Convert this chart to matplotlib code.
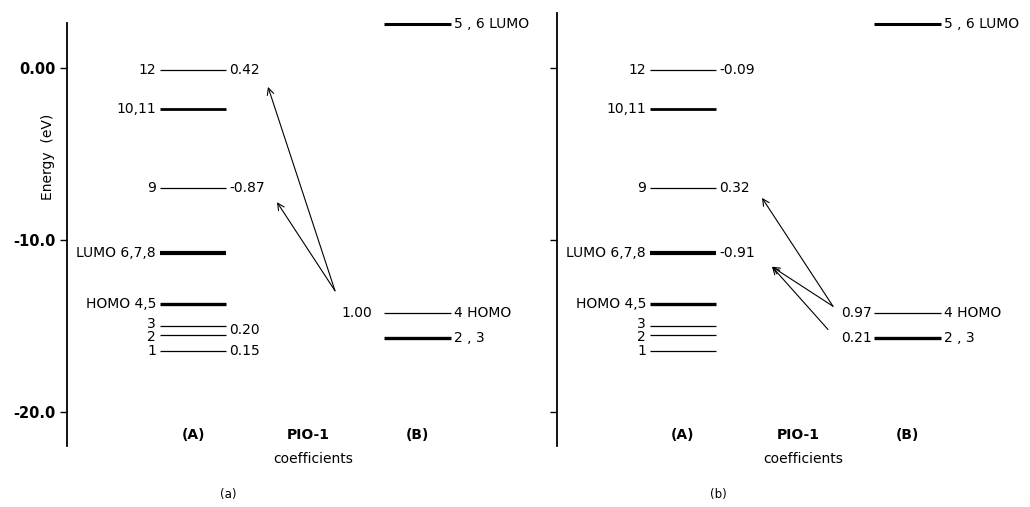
import matplotlib
matplotlib.use("Agg")
from matplotlib import pyplot as plt

plt.rcParams['font.family'] = ['DejaVu Sans']

# orbital energies of fragment (A), eV
e_A = [-0.1, -2.4, -7.0, -10.75, -13.7, -15.0, -15.5, -16.45]
lab_A = ["12", "10,11", "9", "LUMO 6,7,8", "HOMO 4,5", "3", "2", "1"]
lw_A = [0.9, 2.0, 0.9, 3.0, 2.4, 0.9, 0.9, 0.9]

# orbital energies of fragment (B), eV
e_B = [2.55, -14.25, -15.7]
lab_B = ["5 , 6 LUMO", "4 HOMO", "2 , 3"]
lw_B = [2.2, 0.9, 2.4]

# PIO-1 coefficients (level index, value)
coef_A_a = [(0, "0.42"), (2, "-0.87"), (5, "0.20"), (7, "0.15")]
coef_B_a = [(1, "1.00")]
coef_A_b = [(0, "-0.09"), (2, "0.32"), (3, "-0.91")]
coef_B_b = [(1, "0.97"), (2, "0.21")]

# arrows: (x0, E0, x1, E1)
arrows_a = [(268, -12.95, 201, -1.1), (268, -12.95, 210, -7.8)]
arrows_b = [(276, -13.85, 205, -7.55), (276, -13.85, 215, -11.55),
            (271, -15.2, 215, -11.55)]

yticks = [0.0, -10.0, -20.0]
ytick_labels = ["0.00", "-10.0", "-20.0"]

xA = (93, 159)
xB = (317, 384)
FS = 10

fig = plt.figure(figsize=(10.3, 5.07), dpi=100)
W, H = 1030, 507


def px_axes(x0, y0, x1, y1):
    return fig.add_axes([x0 / W, 1 - y1 / H, (x1 - x0) / W, (y1 - y0) / H])


def panel(ax, coef_A, coef_B, arrows, letter, show_ticks, spine_top, b_gap):
    ax.set_xlim(0, 470)
    ax.set_ylim(-22.03, 3.37)
    for s in ["top", "right", "bottom"]:
        ax.spines[s].set_visible(False)
    ax.spines["left"].set_bounds(-21.95, spine_top)
    ax.spines["left"].set_linewidth(1.3)
    ax.set_xticks([])
    ax.set_yticks(yticks)
    ax.tick_params(axis="y", direction="out", length=5, width=1.0, pad=3,
                   labelsize=10.5)
    if show_ticks:
        ax.set_yticklabels(ytick_labels, fontweight="bold")
    else:
        ax.set_yticklabels([])

    for e, lab, lw in zip(e_A, lab_A, lw_A):
        ax.plot(xA, [e, e], color="black", lw=lw, solid_capstyle="butt")
        dy = 0.0
        if lab in ("3", "2"):
            dy = 0.12 if lab == "3" else -0.12
        ax.text(xA[0] - 4, e + dy, lab, ha="right", va="center", fontsize=FS)
    for e, lab, lw in zip(e_B, lab_B, lw_B):
        ax.plot(xB, [e, e], color="black", lw=lw, solid_capstyle="butt")
        ax.text(xB[1] + 3, e, lab, ha="left", va="center", fontsize=FS)

    for i, c in coef_A:
        e = e_A[i]
        if i == 5:
            e = (e_A[5] + e_A[6]) / 2
        ax.text(xA[1] + 3, e, c, ha="left", va="center", fontsize=FS)
    for i, c in coef_B:
        ax.text(xB[0] - b_gap, e_B[i], c, ha="right", va="center", fontsize=FS)

    for x0, y0, x1, y1 in arrows:
        ax.annotate("", xy=(x1, y1), xytext=(x0, y0),
                    arrowprops=dict(arrowstyle="->", color="black", lw=0.8,
                                    shrinkA=0, shrinkB=0,
                                    mutation_scale=12))

    ax.text(126, -21.35, "(A)", ha="center", va="center", fontsize=10,
            fontweight="bold", clip_on=False)
    ax.text(241, -21.35, "PIO-1", ha="center", va="center", fontsize=10,
            fontweight="bold", clip_on=False)
    ax.text(350, -21.35, "(B)", ha="center", va="center", fontsize=10,
            fontweight="bold", clip_on=False)
    ax.text(246, -22.75, "coefficients", ha="center", va="center",
            fontsize=10, clip_on=False)
    ax.text(161, -24.8, "(" + letter + ")", ha="center", va="center",
            fontsize=8.5, clip_on=False)


ax1 = px_axes(67, 10, 537, 447)
panel(ax1, coef_A_a, coef_B_a, arrows_a, "a", True, 2.62, 12)
ax1.text(-0.04, 0.665, "Energy  (eV)", transform=ax1.transAxes, rotation=90,
         ha="center", va="center", fontsize=10)

ax2 = px_axes(557, 10, 1027, 447)
panel(ax2, coef_A_b, coef_B_b, arrows_b, "b", False, 3.2, 2)

fig.savefig("out.png", dpi=100)
